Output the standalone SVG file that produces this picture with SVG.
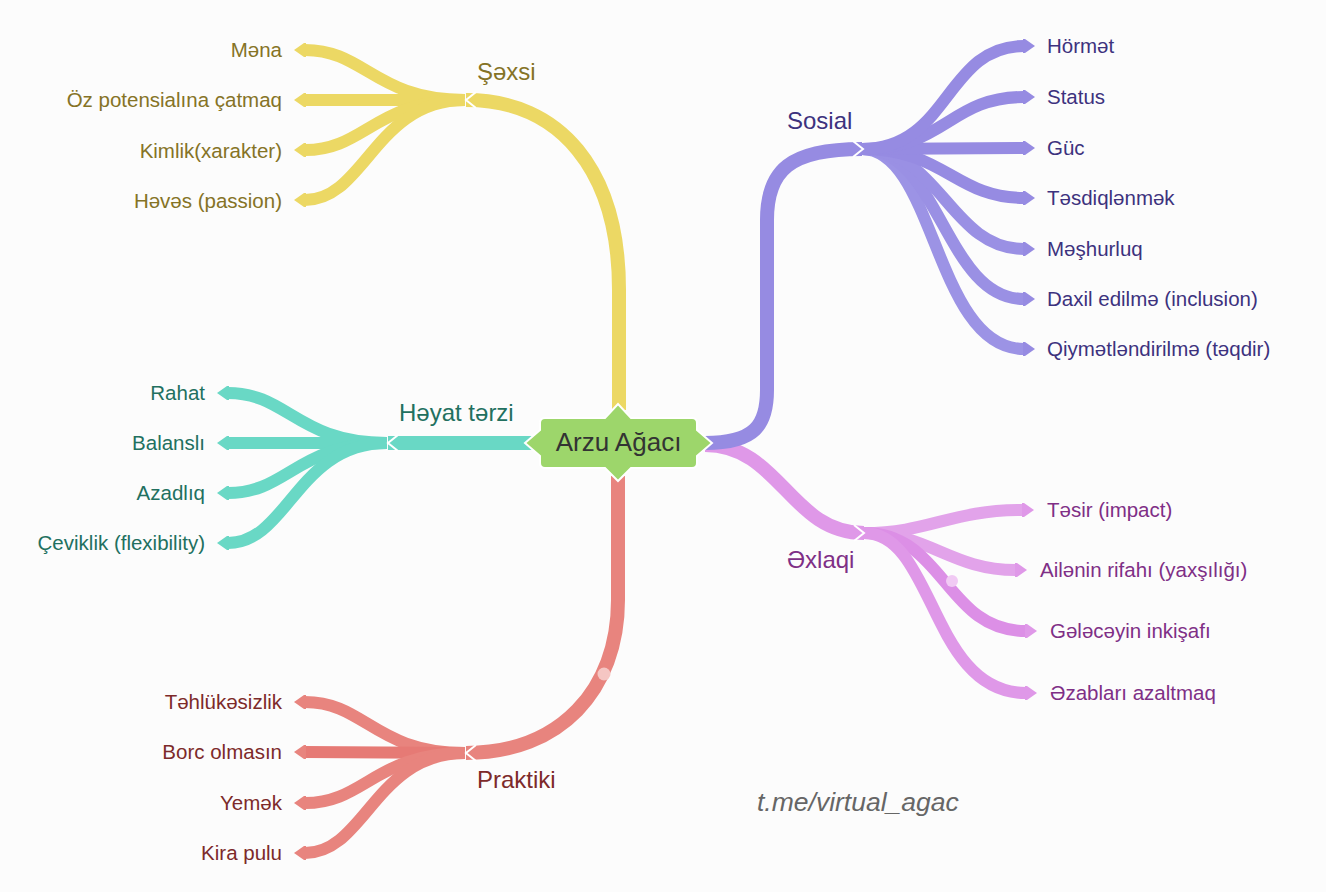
<svg xmlns="http://www.w3.org/2000/svg" width="1326" height="892" viewBox="0 0 1326 892">
<style>
.bg{fill:#fcfcfc}
.br{fill:none;stroke-linecap:butt}
.main{stroke-width:14}
.leaf{stroke-width:12}
.y{stroke:#ECD864}.t{stroke:#69D8C5}.r{stroke:#E8847E}.p{stroke:#968BE2}.k{stroke:#DF98E8}
.chev{fill:none;stroke:#fff;stroke-width:2;stroke-linejoin:miter}
text{font-family:"Liberation Sans",Arial,sans-serif}
.lf{font-size:20.5px}
.lb{font-size:24px}
.ty{fill:#857326}.tt{fill:#22705F}.tr{fill:#7D2A2A}.tp{fill:#3D327E}.tk{fill:#7F2F86}
.end{text-anchor:end}
</style>
<defs>
<marker id="ay" markerUnits="userSpaceOnUse" markerWidth="13" markerHeight="15" viewBox="0 0 13 15" refX="1" refY="7.5" orient="auto"><path d="M0,0.5 L2,0.5 L12,7.5 L2,14.5 L0,14.5 Z" fill="#ECD864"/></marker>
<marker id="at" markerUnits="userSpaceOnUse" markerWidth="13" markerHeight="15" viewBox="0 0 13 15" refX="1" refY="7.5" orient="auto"><path d="M0,0.5 L2,0.5 L12,7.5 L2,14.5 L0,14.5 Z" fill="#69D8C5"/></marker>
<marker id="ar" markerUnits="userSpaceOnUse" markerWidth="13" markerHeight="15" viewBox="0 0 13 15" refX="1" refY="7.5" orient="auto"><path d="M0,0.5 L2,0.5 L12,7.5 L2,14.5 L0,14.5 Z" fill="#E8847E"/></marker>
<marker id="ap" markerUnits="userSpaceOnUse" markerWidth="13" markerHeight="15" viewBox="0 0 13 15" refX="1" refY="7.5" orient="auto"><path d="M0,0.5 L2,0.5 L12,7.5 L2,14.5 L0,14.5 Z" fill="#968BE2"/></marker>
<marker id="ak" markerUnits="userSpaceOnUse" markerWidth="13" markerHeight="15" viewBox="0 0 13 15" refX="1" refY="7.5" orient="auto"><path d="M0,0.5 L2,0.5 L12,7.5 L2,14.5 L0,14.5 Z" fill="#DF98E8"/></marker>
</defs>
<rect class="bg" x="0" y="0" width="1326" height="892"/>

<g id="connectors">
  <!-- Şəxsi leaves -->
  <g marker-end="url(#ay)">
    <path class="br leaf y" d="M465,100 C375,100 365,50 305,50"/>
    <path class="br leaf y" d="M465,100 L305,100"/>
    <path class="br leaf y" d="M465,100 C375,100 365,150 305,150"/>
    <path class="br leaf y" d="M465,100 C375,100 365,200 305,200"/>
  </g>
  <path class="br main y" d="M619,410 L619,290 C619,170 560,100 466,100"/>
  <polyline class="chev" points="476,92 466,100 476,108"/>

  <!-- Həyat tərzi leaves -->
  <g marker-end="url(#at)">
    <path class="br leaf t" d="M387,443 C297,443 288,393 228,393"/>
    <path class="br leaf t" d="M387,443 L228,443"/>
    <path class="br leaf t" d="M387,443 C297,443 288,493 228,493"/>
    <path class="br leaf t" d="M387,443 C297,443 288,543 228,543"/>
  </g>
  <path class="br main t" d="M532,443 L388,443"/>
  <polyline class="chev" points="398,435 388,443 398,451"/>

  <!-- Praktiki leaves -->
  <g marker-end="url(#ar)">
    <path class="br leaf r" d="M465,753 C375,753 365,702 305,702"/>
    <path class="br leaf r" d="M465,753 L305,752" style="stroke:#E67A75"/>
    <path class="br leaf r" d="M465,753 C375,753 365,803 305,803"/>
    <path class="br leaf r" d="M465,753 C375,753 365,853 305,853"/>
  </g>
  <path class="br main r" d="M618,476 L618,600 C618,690 560,753 466,753"/>
  <polyline class="chev" points="476,745 466,753 476,761"/>
  <circle cx="604" cy="674" r="6.5" fill="#F5C6C3"/>

  <!-- Əxlaqi -->
  <path class="br main k" d="M705,445 C780,445 790,533 864,533"/>
  <g marker-end="url(#ak)">
    <path class="br leaf k" d="M864,533 C930,533 950,510 1023,510" style="stroke:#E2A3EA"/>
    <path class="br leaf k" d="M864,533 C930,533 950,570 1016,570" style="stroke:#E2A3EA"/>
    <path class="br leaf k" d="M864,533 C945,533 945,631 1026,631" style="stroke:#DC8FE6"/>
    <path class="br leaf k" d="M864,533 C935,533 930,693 1026,693"/>
  </g>
  <polyline class="chev" points="854,525 864,533 854,541"/>
  <circle cx="952" cy="581" r="6" fill="#F1CAF4"/>

  <!-- Sosial -->
  <path class="br main p" d="M705,443 C755,443 767,425 767,390 L767,220 C767,170 790,149 862,149"/>
  <g marker-end="url(#ap)">
    <path class="br leaf p" d="M862,149 C935,149 935,349 1024,349" style="stroke:#9C93E5"/>
    <path class="br leaf p" d="M862,149 C940,149 945,299 1024,299" style="stroke:#9A90E4"/>
    <path class="br leaf p" d="M862,149 C940,149 950,249 1024,249" style="stroke:#9A90E4"/>
    <path class="br leaf p" d="M862,149 C945,149 955,198 1024,198"/>
    <path class="br leaf p" d="M862,149 L1024,148"/>
    <path class="br leaf p" d="M862,149 C945,149 950,97 1024,97"/>
    <path class="br leaf p" d="M862,149 C950,149 945,46 1024,46"/>
  </g>
  <polyline class="chev" points="853,141 863,149 853,157"/>
</g>

<g id="center">
  <path d="M545,418 L605,418 L618,404 L631,418 L692,418 Q697,418 697,423 L697,430 L712,443 L697,456 L697,463 Q697,468 692,468 L631,468 L618,481 L605,468 L545,468 Q540,468 540,463 L540,456 L525,443 L540,430 L540,423 Q540,418 545,418 Z" fill="#9DD66B" stroke="#fff" stroke-width="2"/>
  <text x="618.5" y="451" font-size="26" fill="#333" text-anchor="middle">Arzu Ağacı</text>
</g>

<g id="sexsi">
  <text class="lb ty" x="477" y="80">Şəxsi</text>
  <text class="lf ty end" x="282" y="57">Məna</text>
  <text class="lf ty end" x="282" y="107">Öz potensialına çatmaq</text>
  <text class="lf ty end" x="282" y="158">Kimlik(xarakter)</text>
  <text class="lf ty end" x="282" y="208">Həvəs (passion)</text>
</g>

<g id="heyat">
  <text class="lb tt" x="399" y="421">Həyat tərzi</text>
  <text class="lf tt end" x="205" y="400">Rahat</text>
  <text class="lf tt end" x="205" y="450">Balanslı</text>
  <text class="lf tt end" x="205" y="500">Azadlıq</text>
  <text class="lf tt end" x="205" y="550">Çeviklik (flexibility)</text>
</g>

<g id="praktiki">
  <text class="lb tr" x="477" y="788">Praktiki</text>
  <text class="lf tr end" x="282" y="709">Təhlükəsizlik</text>
  <text class="lf tr end" x="282" y="759">Borc olmasın</text>
  <text class="lf tr end" x="282" y="810">Yemək</text>
  <text class="lf tr end" x="282" y="860">Kira pulu</text>
</g>

<g id="sosial">
  <text class="lb tp" x="787" y="129">Sosial</text>
  <text class="lf tp" x="1047" y="53">Hörmət</text>
  <text class="lf tp" x="1047" y="104">Status</text>
  <text class="lf tp" x="1047" y="155">Güc</text>
  <text class="lf tp" x="1047" y="205">Təsdiqlənmək</text>
  <text class="lf tp" x="1047" y="256">Məşhurluq</text>
  <text class="lf tp" x="1047" y="306">Daxil edilmə (inclusion)</text>
  <text class="lf tp" x="1047" y="356">Qiymətləndirilmə (təqdir)</text>
</g>

<g id="exlaqi">
  <text class="lb tk" x="787" y="568">Əxlaqi</text>
  <text class="lf tk" x="1047" y="517">Təsir (impact)</text>
  <text class="lf tk" x="1040" y="577">Ailənin rifahı (yaxşılığı)</text>
  <text class="lf tk" x="1050" y="638">Gələcəyin inkişafı</text>
  <text class="lf tk" x="1050" y="700">Əzabları azaltmaq</text>
</g>

<g id="watermark">
  <text x="757" y="811" font-size="26.5" font-style="italic" fill="#666">t.me/virtual_agac</text>
</g>
</svg>
